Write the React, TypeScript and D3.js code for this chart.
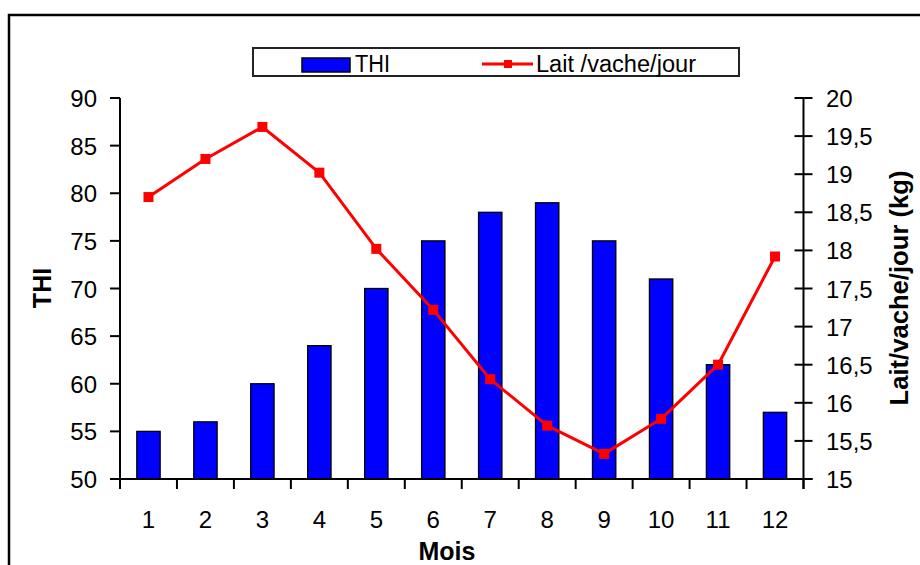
import React from "react";
import * as d3 from "d3";

const months = ["1", "2", "3", "4", "5", "6", "7", "8", "9", "10", "11", "12"];
const thi = [55, 56, 60, 64, 70, 75, 78, 79, 75, 71, 62, 57];
const lait = [18.7, 19.2, 19.62, 19.02, 18.02, 17.22, 16.31, 15.7, 15.33, 15.79, 16.5, 17.92];
const thiTicks = [50, 55, 60, 65, 70, 75, 80, 85, 90];
const laitTicks = [15, 15.5, 16, 16.5, 17, 17.5, 18, 18.5, 19, 19.5, 20];

const W = 920;
const H = 565;
const left = 120;
const right = 803.5;
const top = 98;
const bottom = 479;
const font = "'Liberation Sans', Arial, sans-serif";

export default function App() {
  const x = d3.scaleBand<string>().domain(months).range([left, right]).paddingInner(0).paddingOuter(0);
  const yL = d3.scaleLinear().domain([50, 90]).range([bottom, top]);
  const yR = d3.scaleLinear().domain([15, 20]).range([bottom, top]);
  const bw = x.bandwidth() * 0.41;
  const line = d3
    .line<number>()
    .x((_, i) => (x(months[i]) as number) + x.bandwidth() / 2)
    .y((d) => yR(d));
  const fmt = (v: number) => String(v).replace(".", ",");
  const boundaries = d3.range(0, months.length + 1).map((i) => left + i * x.bandwidth());

  return (
    <svg width={W} height={H} style={{ position: "absolute", left: 0, top: 0, background: "#fff" }} fontFamily={font}>
      <rect x={0} y={0} width={W} height={H} fill="#fff" />
      <rect x={9} y={15} width={W + 20} height={H + 20} fill="none" stroke="#000" strokeWidth={2.5} />

      {/* legend */}
      <rect x={253} y={48} width={486} height={28} fill="#fff" stroke="#222" strokeWidth={2} />
      <rect x={302} y={58} width={48} height={14} fill="#0000ff" stroke="#000" strokeWidth={1.5} />
      <text x={355} y={72} fontSize={23} fill="#000" textLength={35} lengthAdjust="spacingAndGlyphs">THI</text>
      <line x1={482} x2={533} y1={64} y2={64} stroke="#ff0000" strokeWidth={3} />
      <rect x={504} y={60} width={8} height={8} fill="#ff0000" />
      <text x={536} y={72} fontSize={23} fill="#000" textLength={160} lengthAdjust="spacingAndGlyphs">Lait /vache/jour</text>

      {/* bars */}
      {thi.map((v, i) => (
        <rect
          key={i}
          x={(x(months[i]) as number) + (x.bandwidth() - bw) / 2}
          y={yL(v)}
          width={bw}
          height={bottom - yL(v)}
          fill="#0000ff"
          stroke="#000"
          strokeWidth={1.3}
        />
      ))}

      {/* left axis */}
      <line x1={left} x2={left} y1={top} y2={bottom + 10} stroke="#000" strokeWidth={2} />
      {thiTicks.map((t) => (
        <g key={t}>
          <line x1={left - 10} x2={left} y1={yL(t)} y2={yL(t)} stroke="#000" strokeWidth={2} />
          <text x={97} y={yL(t) + 9} fontSize={24} textAnchor="end" fill="#000">{t}</text>
        </g>
      ))}

      {/* right axis */}
      <line x1={right} x2={right} y1={top} y2={bottom + 10} stroke="#000" strokeWidth={2} />
      {laitTicks.map((t) => (
        <g key={t}>
          <line x1={right - 9} x2={right + 9} y1={yR(t)} y2={yR(t)} stroke="#000" strokeWidth={2} />
          <text x={826} y={yR(t) + 9} fontSize={24} fill="#000">{fmt(t)}</text>
        </g>
      ))}

      {/* bottom axis */}
      <line x1={left - 10} x2={right + 9} y1={bottom} y2={bottom} stroke="#000" strokeWidth={2} />
      {boundaries.map((b, i) => (
        <line key={i} x1={b} x2={b} y1={bottom} y2={bottom + 10} stroke="#000" strokeWidth={2} />
      ))}
      {months.map((m) => (
        <text key={m} x={(x(m) as number) + x.bandwidth() / 2} y={528} fontSize={24} textAnchor="middle" fill="#000">
          {m}
        </text>
      ))}

      {/* line series */}
      <path d={line(lait) as string} fill="none" stroke="#ff0000" strokeWidth={3} strokeLinejoin="round" />
      {lait.map((v, i) => (
        <rect
          key={i}
          x={(x(months[i]) as number) + x.bandwidth() / 2 - 5}
          y={yR(v) - 5}
          width={10}
          height={10}
          fill="#ff0000"
        />
      ))}

      {/* axis titles */}
      <text x={447} y={560} fontSize={25} fontWeight="bold" textAnchor="middle" fill="#000">Mois</text>
      <text transform={`translate(51,288) rotate(-90)`} fontSize={25} fontWeight="bold" textAnchor="middle" fill="#000">THI</text>
      <text
        transform={`translate(908,288) rotate(-90)`}
        fontSize={25}
        fontWeight="bold"
        textAnchor="middle"
        fill="#000"
        textLength={235}
        lengthAdjust="spacingAndGlyphs"
      >
        Lait/vache/jour (kg)
      </text>
    </svg>
  );
}
